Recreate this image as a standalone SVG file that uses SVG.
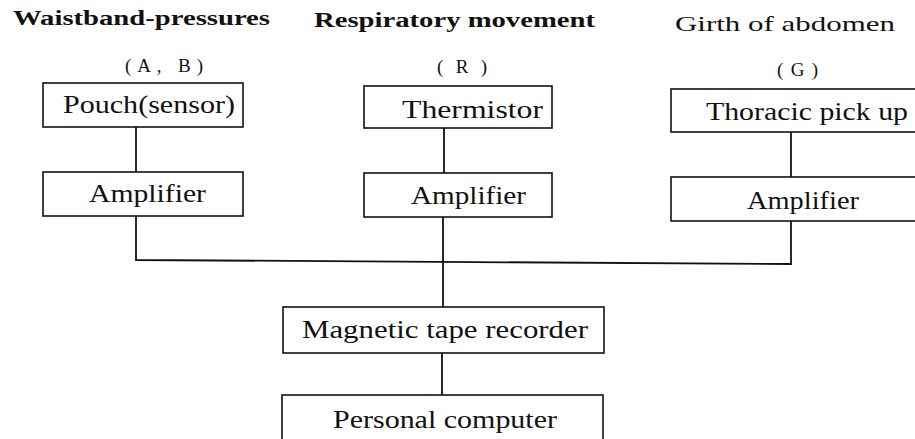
<svg xmlns="http://www.w3.org/2000/svg" width="915" height="439" viewBox="0 0 915 439">
<style>
  .box { fill: #ffffff; stroke: #111111; stroke-width: 1.6; }
  .wire { fill: none; stroke: #111111; stroke-width: 1.8; }
</style>
<rect width="915" height="439" fill="#ffffff"/>
<g font-family="Liberation Serif, DejaVu Serif, serif" fill="#111111">
<g id="titles">
  <text font-size="20" font-weight="bold" x="13" y="25" textLength="257" lengthAdjust="spacingAndGlyphs">Waistband-pressures</text>
  <text font-size="20" font-weight="bold" x="314" y="27" textLength="281" lengthAdjust="spacingAndGlyphs">Respiratory movement</text>
  <text font-size="22" x="675" y="31" textLength="220" lengthAdjust="spacingAndGlyphs">Girth of abdomen</text>
  <text font-size="19" x="125" y="72" textLength="78" lengthAdjust="spacing">(A, B)</text>
  <text font-size="19" x="437" y="73" textLength="50" lengthAdjust="spacing">(R)</text>
  <text font-size="19" x="777" y="76" textLength="41" lengthAdjust="spacing">(G)</text>
</g>
<g id="connectors">
  <line class="wire" x1="136" y1="127" x2="136" y2="172"/>
  <line class="wire" x1="444" y1="128" x2="444" y2="173"/>
  <line class="wire" x1="791" y1="132" x2="791" y2="177"/>
  <polyline class="wire" points="136,216 136,260 791,264 791,221"/>
  <line class="wire" x1="443" y1="217" x2="443" y2="307"/>
  <line class="wire" x1="442" y1="353" x2="442" y2="395"/>
</g>
<g id="pouch">
  <rect class="box" x="43" y="83" width="200" height="44"/>
  <text font-size="26" x="63" y="113" textLength="172" lengthAdjust="spacingAndGlyphs">Pouch(sensor)</text>
</g>
<g id="amp1">
  <rect class="box" x="43" y="172" width="200" height="44"/>
  <text font-size="26" x="89" y="202" textLength="117" lengthAdjust="spacingAndGlyphs">Amplifier</text>
</g>
<g id="thermistor">
  <rect class="box" x="364" y="86" width="188" height="42"/>
  <text font-size="26" x="402" y="118" textLength="141" lengthAdjust="spacingAndGlyphs">Thermistor</text>
</g>
<g id="amp2">
  <rect class="box" x="364" y="173" width="188" height="44"/>
  <text font-size="26" x="411" y="204" textLength="115" lengthAdjust="spacingAndGlyphs">Amplifier</text>
</g>
<g id="thoracic">
  <rect class="box" x="671" y="89" width="260" height="43"/>
  <text font-size="26" x="706" y="120" textLength="202" lengthAdjust="spacingAndGlyphs">Thoracic pick up</text>
</g>
<g id="amp3">
  <rect class="box" x="671" y="177" width="260" height="44"/>
  <text font-size="26" x="747" y="209" textLength="112" lengthAdjust="spacingAndGlyphs">Amplifier</text>
</g>
<g id="recorder">
  <rect class="box" x="283" y="307" width="321" height="46"/>
  <text font-size="26" x="302" y="338" textLength="286" lengthAdjust="spacingAndGlyphs">Magnetic tape recorder</text>
</g>
<g id="computer">
  <rect class="box" x="282" y="395" width="321" height="60"/>
  <text font-size="26" x="333" y="428" textLength="224" lengthAdjust="spacingAndGlyphs">Personal computer</text>
</g>
</g>
</svg>
